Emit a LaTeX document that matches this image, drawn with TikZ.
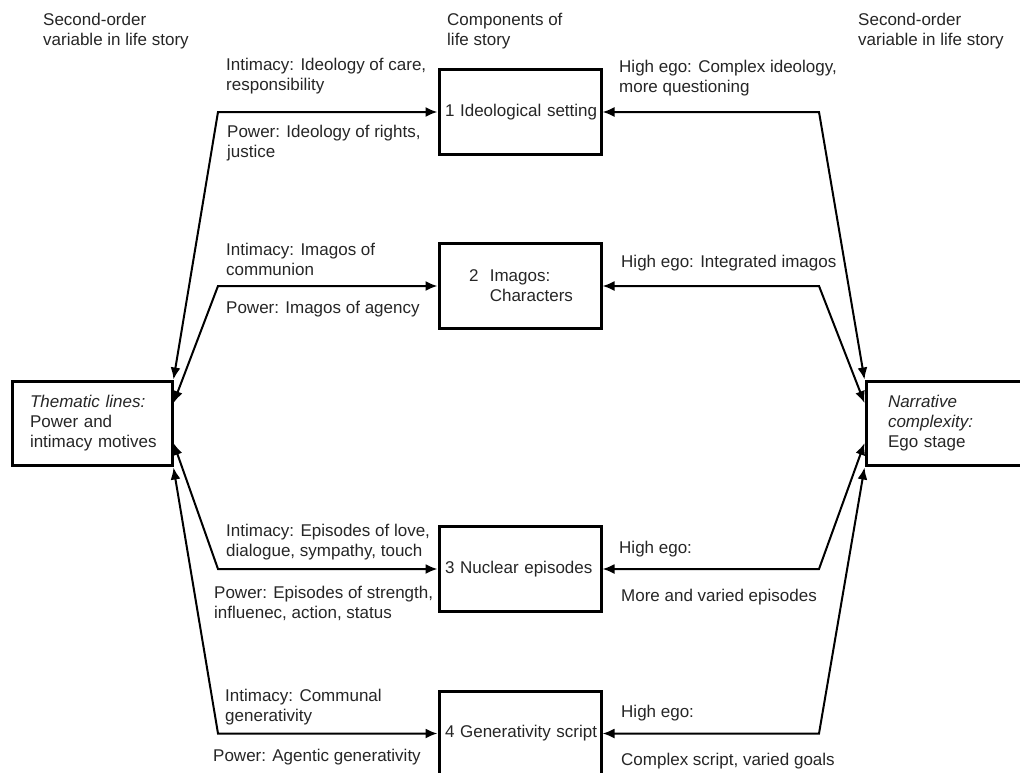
\documentclass[tikz,border=0pt]{standalone}
\usepackage{fontspec}
\setmainfont{Liberation Sans}
\usetikzlibrary{arrows.meta}
\begin{document}
\begin{tikzpicture}[x=1pt,y=-1pt,
  every node/.style={font=\fontsize{17pt}{20pt}\selectfont, inner sep=0pt, text=black!85},
  box/.style={draw=black, line width=3pt, minimum width=162pt, minimum height=85pt, align=left, text width=150pt},
  lbl/.style={anchor=west, align=left},
  conn/.style={line width=2pt, line join=miter, {Latex[length=12pt,width=10pt]}-{Latex[length=12pt,width=10pt]}}]
\useasboundingbox (0,0) rectangle (1020,772);
\fill[white] (0,0) rectangle (1020,772);

% side boxes
\node[box, minimum width=160pt, minimum height=84pt, text width=124pt] (L) at (92,423)
  {\mbox{\textit{Thematic lines:}}\\\mbox{Power and}\\\mbox{intimacy motives}};
\node[box, minimum width=170pt, minimum height=84pt, text width=126pt] (R) at (951,423)
  {\mbox{\textit{Narrative}}\\\mbox{\textit{complexity:}}\\\mbox{Ego stage}};

% component boxes
\node[box] (B1) at (520,112) {\mbox{1 Ideological setting}};
\node[box, text width=102pt] (B2) at (520,286) {\mbox{2\ \ Imagos:}\\\mbox{\phantom{2\ \ }Characters}};
\node[box] (B3) at (520,569) {\mbox{3 Nuclear episodes}};
\node[box] (B4) at (520,733.5) {\mbox{4 Generativity script}};

% corner points
\coordinate (cl1) at (218,112);
\coordinate (cl2) at (218,286);
\coordinate (cl3) at (218,569);
\coordinate (cl4) at (218,733.5);
\coordinate (cr1) at (819,112);
\coordinate (cr2) at (819,286);
\coordinate (cr3) at (819,569);
\coordinate (cr4) at (819,733.5);

% connectors left
\draw[conn] (L.north east) -- (cl1) -- (B1.west);
\draw[conn] ([yshift=20pt]L.east) -- (cl2) -- (B2.west);
\draw[conn] ([yshift=-20pt]L.east) -- (cl3) -- (B3.west);
\draw[conn] ([yshift=-1pt]L.south east) -- (cl4) -- (B4.west);

% connectors right
\draw[conn] (R.north west) -- (cr1) -- (B1.east);
\draw[conn] ([yshift=20pt]R.west) -- (cr2) -- (B2.east);
\draw[conn] ([yshift=-20pt]R.west) -- (cr3) -- (B3.east);
\draw[conn] ([yshift=-1pt]R.south west) -- (cr4) -- (B4.east);

% headings
\node[lbl] (h1) at (43,31) {Second-order\\variable in life story};
\node[lbl] (h2) at (447,31) {Components of\\life story};
\node[lbl] (h3) at (858,31) {Second-order\\variable in life story};

% left labels
\node[lbl] (a1) at (226,76) {Intimacy: Ideology of care,\\responsibility};
\node[lbl] (a2) at (227,143) {Power: Ideology of rights,\\justice};
\node[lbl] (a3) at (226,259) {Intimacy: Imagos of\\communion};
\node[lbl] (a4) at (226,309) {Power: Imagos of agency};
\node[lbl] (a5) at (226,542) {Intimacy: Episodes of love,\\dialogue, sympathy, touch};
\node[lbl] (a6) at (214,603) {Power: Episodes of strength,\\influenec, action, status};
\node[lbl] (a7) at (225,707) {Intimacy: Communal\\generativity};
\node[lbl] (a8) at (213,757) {Power: Agentic generativity};

% right labels
\node[lbl] (b1) at (619,78) {High ego: Complex ideology,\\more questioning};
\node[lbl] (b2) at (621,263) {High ego: Integrated imagos};
\node[lbl] (b3) at (619,549) {High ego:};
\node[lbl] (b4) at (621,597) {More and varied episodes};
\node[lbl] (b5) at (621,713) {High ego:};
\node[lbl] (b6) at (621,761) {Complex script, varied goals};
\end{tikzpicture}
\end{document}
